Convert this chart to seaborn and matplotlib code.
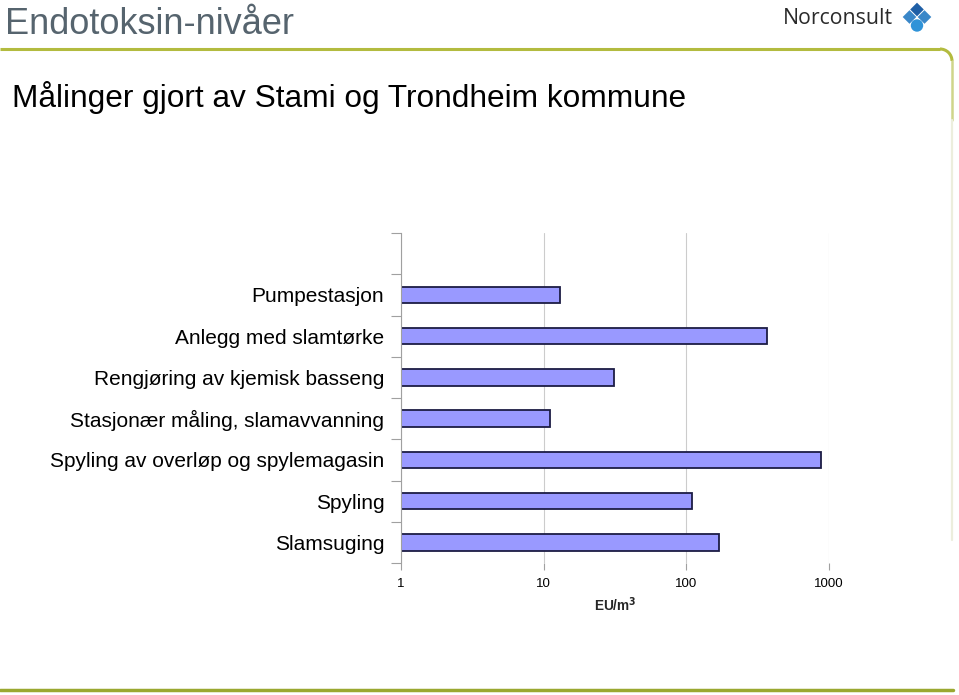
import numpy as np
import matplotlib
matplotlib.use("Agg")
import matplotlib.pyplot as plt
import seaborn as sns
from matplotlib.patches import Polygon, Circle, Arc

categories = [
    "Pumpestasjon",
    "Anlegg med slamtørke",
    "Rengjøring av kjemisk basseng",
    "Stasjonær måling, slamavvanning",
    "Spyling av overløp og spylemagasin",
    "Spyling",
    "Slamsuging",
]
values = [13, 367, 31, 11, 877, 109, 169]
x_ticks = [1, 10, 100, 1000]
x_tick_labels = ["1", "10", "100", "1000"]

sns.set_theme(style="white")
plt.rcParams["font.family"] = ["Liberation Sans", "DejaVu Sans"]

W, H = 959, 695
fig = plt.figure(figsize=(W / 100, H / 100), dpi=100)

# overlay for decorations in pixel coordinates
ov = fig.add_axes([0, 0, 1, 1], zorder=0)
ov.set_xlim(0, W)
ov.set_ylim(H, 0)
ov.axis("off")

green = "#b3bb3f"
ov.plot([0, 940], [49, 49], color=green, lw=2.2, solid_capstyle="butt")
ov.add_patch(Arc((940, 61), 24, 24, theta1=270, theta2=360, color=green, lw=2.2))
ov.plot([952, 952], [61, 120], color="#cfd58a", lw=1.8)
ov.plot([952, 952], [120, 540], color="#eceedd", lw=1.6)
ov.plot([0, 953], [690, 690], color="#9aa830", lw=2.5)

ov.text(5, 25, "Endotoksin-nivåer", fontsize=26, color="#56646e",
        va="center", ha="left")
ov.text(12, 97, "Målinger gjort av Stami og Trondheim kommune", fontsize=22.8,
        color="black", va="center", ha="left")

# logo
ov.text(783, 18, "Norconsult", fontsize=15.3, family="Open Sans", color="#2a2a2a",
        va="center", ha="left")
cx, cy, d = 917, 17, 7.5
def diamond(x, y, r, c):
    ov.add_patch(Polygon([[x, y - r], [x + r, y], [x, y + r], [x - r, y]],
                         closed=True, color=c, lw=0))
diamond(cx, cy - d, 6.8, "#1f5fa6")
diamond(cx - d, cy, 6.8, "#3a87c8")
diamond(cx + d, cy, 6.8, "#3a87c8")
ov.add_patch(Circle((cx, cy + d + 1), 6.2, color="#2f93d8", lw=0))

# chart
left, right, top, bottom = 401, 829, 233, 563
ax = fig.add_axes([left / W, 1 - bottom / H, (right - left) / W, (bottom - top) / H],
                  zorder=1)
ax.patch.set_alpha(0)
sns.barplot(x=values, y=categories, orient="h", color="#9999ff",
            saturation=1, edgecolor="#1c1c44", linewidth=1.3, width=0.4, ax=ax)
ax.set_xscale("log")
ax.set_xlim(1, 1000)
ax.set_ylim(6.5, -1.5)
ax.set_xticks(x_ticks)
ax.set_xticklabels(x_tick_labels)
ax.xaxis.set_minor_locator(matplotlib.ticker.NullLocator())
ax.set_yticks(np.arange(-1.5, 7.0, 1.0), minor=True)
ax.tick_params(axis="y", which="major", length=0, pad=12, labelsize=15, labelcolor="black")
ax.tick_params(axis="y", which="minor", length=7, width=0.8, color="#a0a0a0", left=True)
ax.tick_params(axis="x", which="major", length=5, width=0.8, color="#a0a0a0",
               bottom=True, labelsize=9.5, pad=6, labelcolor="black")
ax.grid(axis="x", which="major", color="#cccccc", lw=0.8)
ax.set_axisbelow(True)
for s in ["top", "right", "bottom"]:
    ax.spines[s].set_visible(False)
ax.spines["left"].set_color("#a0a0a0")
ax.spines["left"].set_linewidth(0.8)
ax.set_ylabel("")
ax.set_xlabel("EU/m$^\\mathbf{3}$", fontsize=9.8, fontweight="bold", labelpad=4)

fig.savefig("out.png", dpi=100)
